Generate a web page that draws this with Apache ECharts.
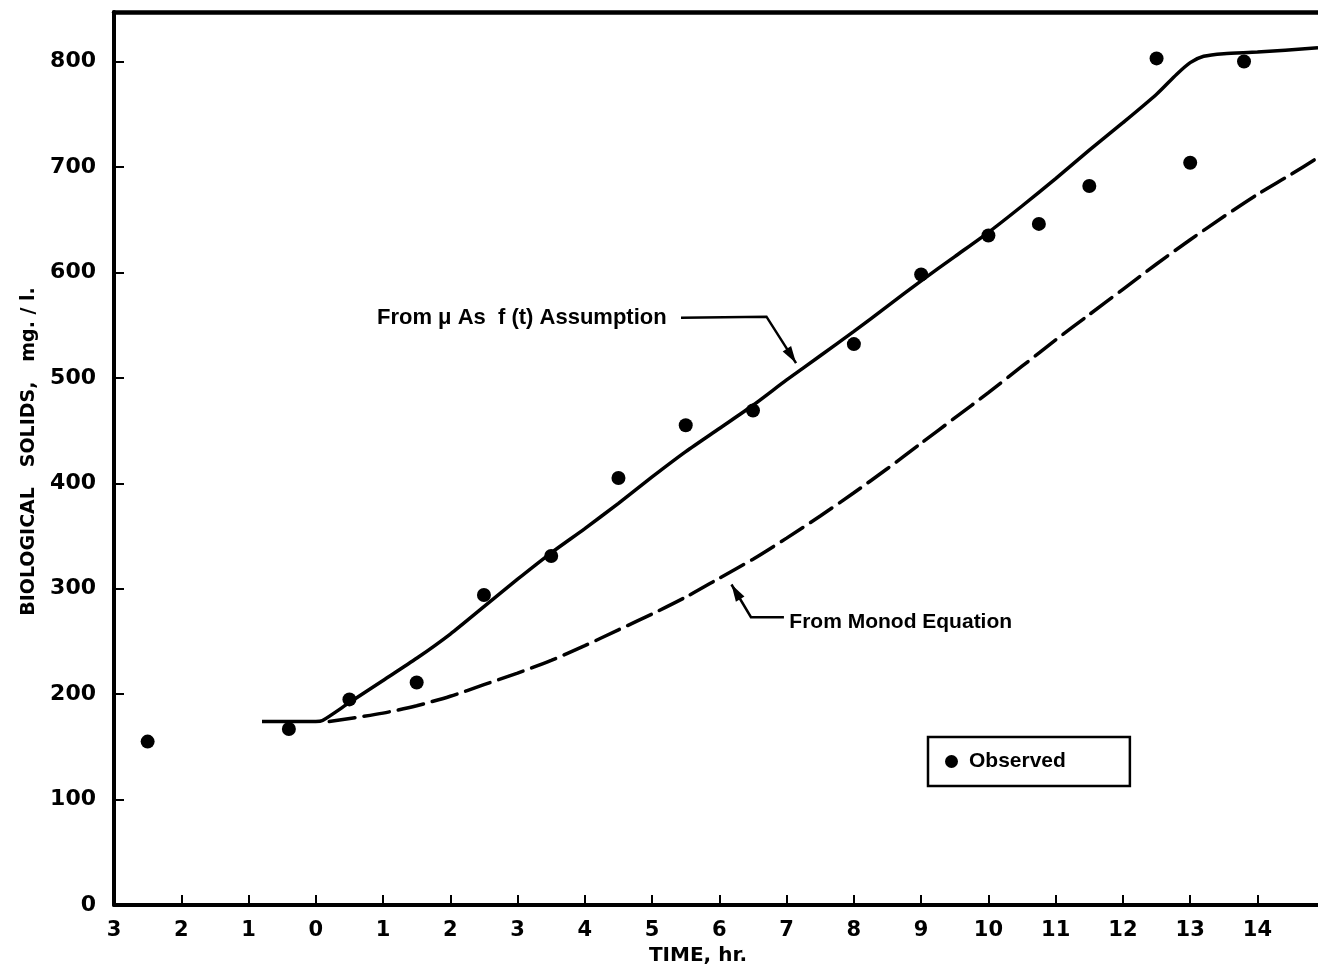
<!DOCTYPE html>
<html>
<head>
<meta charset="utf-8">
<script src="https://cdn.jsdelivr.net/npm/echarts@6/dist/echarts.min.js"></script>
<style>
  html, body { margin: 0; padding: 0; background: #fff; }
  #chart { width: 1318px; height: 970px; }
</style>
</head>
<body>
<div id="chart"></div>
<script>
// Observed biological solids (mg/l) against time (hr)
const observedTime   = [-2.5, -0.4, 0.5, 1.5, 2.5, 3.5, 4.5, 5.5, 6.5, 8, 9, 10, 10.75, 11.5, 12.5, 13, 13.8];
const observedSolids = [155, 167, 195, 211, 294, 331, 405, 455, 469, 532, 598, 635, 646, 682, 803, 704, 800];

// Curve computed from the mu-as-f(t) assumption
const muTime   = [-0.8, -0.4, 0, 0.1, 0.5, 1, 1.5, 2, 2.5, 3, 3.5, 4, 4.5, 5, 5.5, 6, 6.5, 7, 7.5, 8, 8.5, 9, 9.5, 10, 10.5, 11, 11.5, 12, 12.5, 12.8, 13, 13.2, 13.5, 14, 14.9];
const muSolids = [174, 174, 174, 175, 192, 213, 234, 257, 283, 309, 334, 357, 381, 406, 430, 452, 474, 498, 521, 544, 568, 592, 615, 638, 663, 689, 716, 742, 769, 788, 799, 805, 807.5, 809, 813];

// Curve computed from the Monod equation
const monodTime   = [0.2, 1, 1.5, 2, 2.5, 3, 3.5, 4, 4.5, 5, 5.5, 6, 6.5, 7, 7.5, 8, 8.5, 9, 9.5, 10, 10.5, 11, 11.5, 12, 12.5, 13, 13.5, 14, 14.5, 14.9];
const monodSolids = [174, 182, 189, 198, 209, 220, 232, 246, 261, 276, 292, 310, 328, 348, 369, 391, 414, 438, 462, 486, 511, 536, 560, 584, 608, 631, 653, 674, 693, 709];

// Axis extents and tick spacing
const timeRange   = [-3, 14.9];
const solidsRange = [0, 847];
const timeStep = 1;
const solidsStep = 100;

const zip = (xs, ys) => xs.map((x, i) => [x, ys[i]]);

const INK = '#000';
const tickFont = 'DejaVu Sans';
const textFont = 'Liberation Sans';

const chart = echarts.init(document.getElementById('chart'), null, { renderer: 'canvas' });

const option = {
  backgroundColor: '#fff',
  animation: false,
  grid: { left: 114, right: 0, top: 12, bottom: 65, containLabel: false, outerBoundsMode: 'none' },
  legend: {
    data: ['Observed'],
    left: 928, top: 737,
    orient: 'horizontal',
    icon: 'circle',
    itemWidth: 13, itemHeight: 13,
    borderColor: INK, borderWidth: 2.5,
    padding: [14, 64, 14, 17],
    textStyle: { color: INK, fontFamily: textFont, fontWeight: 'bold', fontSize: 21, padding: [0, 0, 0, 6] }
  },
  xAxis: [
    {
      type: 'value',
      min: timeRange[0], max: timeRange[1], interval: timeStep,
      name: 'TIME, hr.',
      nameLocation: 'middle',
      nameGap: 40,
      nameTextStyle: { color: INK, fontFamily: tickFont, fontWeight: 'bold', fontSize: 20, padding: [0, 36, 0, 0] },
      axisLine: { show: true, onZero: false, lineStyle: { color: INK, width: 4 } },
      axisTick: { show: true, inside: true, length: 10, lineStyle: { color: INK, width: 2 } },
      axisLabel: {
        color: INK, fontFamily: tickFont, fontWeight: 'bold', fontSize: 21, margin: 15,
        showMaxLabel: false,
        formatter: v => String(Math.abs(Math.round(v)))
      },
      splitLine: { show: false }
    },
    {
      type: 'value', position: 'top',
      min: timeRange[0], max: timeRange[1], interval: timeStep,
      axisLine: { show: true, onZero: false, lineStyle: { color: INK, width: 4.5 } },
      axisTick: { show: false }, axisLabel: { show: false }, splitLine: { show: false }
    }
  ],
  yAxis: {
    type: 'value',
    min: solidsRange[0], max: solidsRange[1], interval: solidsStep,
    name: 'BIOLOGICAL   SOLIDS,   mg. / l.',
    nameLocation: 'middle',
    nameGap: 75,
    nameTextStyle: { color: INK, fontFamily: tickFont, fontWeight: 'bold', fontSize: 19, padding: [0, 0, 0, 14] },
    axisLine: { show: true, onZero: false, lineStyle: { color: INK, width: 4 } },
    axisTick: { show: true, inside: true, length: 10, lineStyle: { color: INK, width: 2 } },
    axisLabel: { color: INK, fontFamily: tickFont, fontWeight: 'bold', fontSize: 22, margin: 18, showMaxLabel: false },
    splitLine: { show: false }
  },
  series: [
    {
      name: 'From μ As f(t) Assumption',
      type: 'line',
      data: zip(muTime, muSolids),
      showSymbol: false,
      smooth: 0.25,
      lineStyle: { color: INK, width: 3.5 },
      itemStyle: { color: INK },
      z: 2
    },
    {
      name: 'From Monod Equation',
      type: 'line',
      data: zip(monodTime, monodSolids),
      showSymbol: false,
      smooth: 0.25,
      lineStyle: { color: INK, width: 3.5, type: [26, 9], cap: 'round' },
      itemStyle: { color: INK },
      z: 2
    },
    {
      name: 'Observed',
      type: 'scatter',
      data: zip(observedTime, observedSolids),
      symbol: 'circle',
      symbolSize: 14,
      itemStyle: { color: INK, opacity: 1 },
      z: 3
    }
  ]
};

chart.setOption(option);

// Leader lines with arrowheads pointing at each curve, placed in data units
function px(t, v) { return chart.convertToPixel({ gridIndex: 0 }, [t, v]); }

function arrowHead(from, to, len, half) {
  const dx = to[0] - from[0], dy = to[1] - from[1];
  const d = Math.hypot(dx, dy);
  const ux = dx / d, uy = dy / d;
  const bx = to[0] - ux * len, by = to[1] - uy * len;
  return {
    type: 'polygon',
    shape: { points: [to, [bx - uy * half, by + ux * half], [bx + uy * half, by - ux * half]] },
    style: { fill: INK }
  };
}

function leader(points) {
  return {
    type: 'polyline',
    shape: { points: points },
    style: { stroke: INK, lineWidth: 2.5, fill: null, lineJoin: 'miter' }
  };
}

const muPath = [px(5.43, 557), px(6.70, 558), px(7.14, 514)];
const monodPath = [px(6.96, 273), px(6.47, 273), px(6.18, 304)];
const muLabel = px(0.91, 557);
const monodLabel = px(7.04, 268);

chart.setOption({
  graphic: [
    {
      type: 'text', x: muLabel[0], y: muLabel[1],
      style: {
        text: 'From μ As  f (t) Assumption',
        fill: INK, font: 'bold 22px "Liberation Sans"',
        textAlign: 'left', textVerticalAlign: 'middle'
      }
    },
    leader(muPath),
    arrowHead(muPath[1], muPath[2], 17, 5),
    {
      type: 'text', x: monodLabel[0], y: monodLabel[1],
      style: {
        text: 'From Monod Equation',
        fill: INK, font: 'bold 21px "Liberation Sans"',
        textAlign: 'left', textVerticalAlign: 'middle'
      }
    },
    leader(monodPath),
    arrowHead(monodPath[1], monodPath[2], 17, 5)
  ]
});
</script>
</body>
</html>
